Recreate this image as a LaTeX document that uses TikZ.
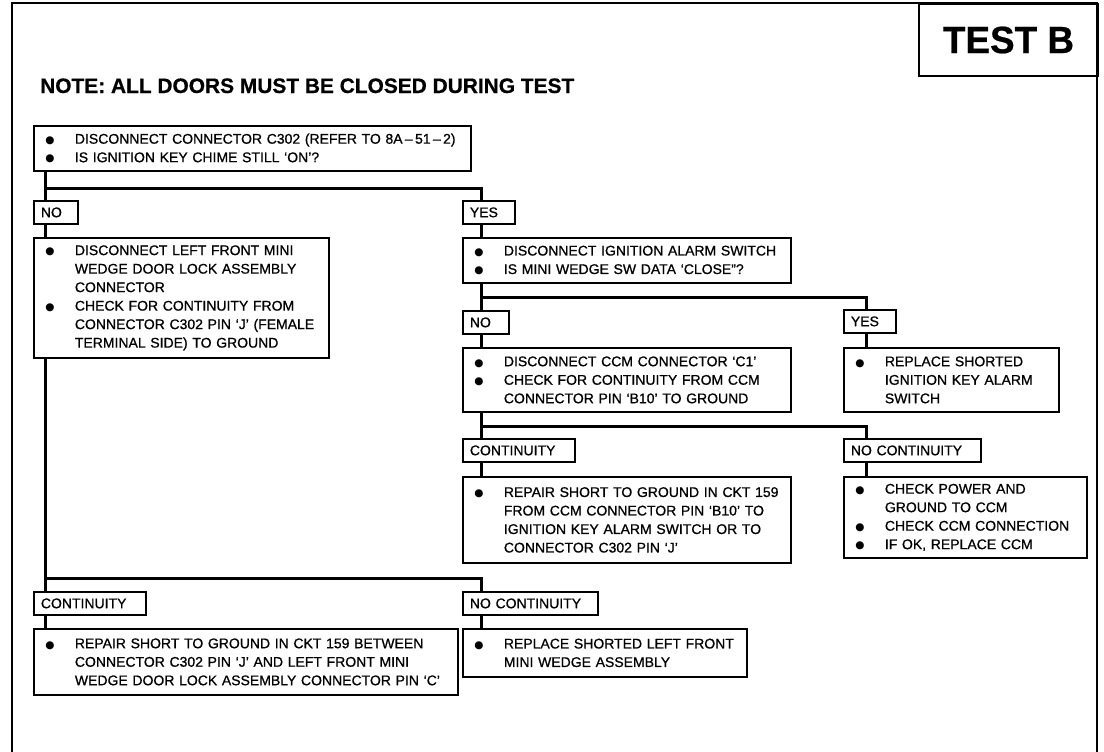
\documentclass[tikz,border=0pt]{standalone}
\usepackage{fontspec}
\usepackage{graphicx}
\setmainfont{Liberation Sans}[FakeBold=0.8]
\newfontfamily\headfont{Liberation Sans Bold}[FakeBold=0.6]
\newfontfamily\dotfont{DejaVu Sans}
\usetikzlibrary{calc}

\newcommand\bul{\makebox[30pt][l]{\hspace*{0.5pt}\raisebox{0.2pt}{\dotfont\fontsize{10.5}{10.5}\selectfont ●}}}
\newcommand\ind{\hspace*{30pt}}

\begin{document}
\begin{tikzpicture}[x=1pt, y=-1pt,
    stepbox/.style={draw, line width=1.8pt, anchor=north west, align=left,
        inner xsep=11pt, inner ysep=0pt, font=\fontsize{14}{18.5}\selectfont},
    tag/.style={draw, line width=1.8pt, anchor=north west, align=left,
        inner xsep=7pt, inner ysep=0pt, minimum height=23pt, font=\fontsize{14}{16}\selectfont},
    wire/.style={line width=3pt}]
    \useasboundingbox (0,0) rectangle (1104,752);
    % frame and heading
    \draw[line width=2pt] (12,752) -- (12,3) -- (1097,3) -- (1097,752);
    \node[draw, line width=2pt, anchor=north west, minimum width=179pt, minimum height=72pt,
        font=\headfont\fontsize{38}{38}\selectfont] at (918,3) (title) {\scalebox{0.97}[1]{TEST B}};
    \node[anchor=base west, inner sep=0pt, font=\headfont\fontsize{20.9}{20.9}\selectfont] at (40,93) (note)
        {NOTE: ALL DOORS MUST BE CLOSED DURING TEST};
    % columns of the connectors
    \coordinate (colA) at (45,0);
    \coordinate (colB) at (481,0);
    \coordinate (colC) at (866,0);
    % boxes
    \node[stepbox, text width=415pt, minimum height=45pt] at (33,125) (q1)
        {\bul DISCONNECT CONNECTOR C302 (REFER TO 8A\,–\,51\,–\,2)\\
         \bul IS IGNITION KEY CHIME STILL `ON'?};
    \node[tag, text width=30pt] at (33,200) (no1) {NO};
    \node[tag, text width=38pt] at (462,200) (yes1) {YES};
    \node[stepbox, text width=273pt, minimum height=120pt] at (33,237) (a1)
        {\bul DISCONNECT LEFT FRONT MINI\\
         \ind WEDGE DOOR LOCK ASSEMBLY\\
         \ind CONNECTOR\\
         \bul CHECK FOR CONTINUITY FROM\\
         \ind CONNECTOR C302 PIN `J' (FEMALE\\
         \ind TERMINAL SIDE) TO GROUND};
    \node[stepbox, text width=306pt, minimum height=45pt] at (462,237) (b1)
        {\bul DISCONNECT IGNITION ALARM SWITCH\\
         \bul IS MINI WEDGE SW DATA `CLOSE''?};
    \node[tag, text width=32pt] at (462,310) (no2) {NO};
    \node[tag, text width=38pt] at (843,309) (yes2) {YES};
    \node[stepbox, text width=306pt, minimum height=64pt] at (462,347) (c1)
        {\bul DISCONNECT CCM CONNECTOR `C1'\\
         \bul CHECK FOR CONTINUITY FROM CCM\\
         \ind CONNECTOR PIN `B10' TO GROUND};
    \node[stepbox, text width=193pt, minimum height=64pt] at (843,347) (d1)
        {\bul REPLACE SHORTED\\
         \ind IGNITION KEY ALARM\\
         \ind SWITCH};
    \node[tag, text width=98pt] at (462,438) (cont1) {CONTINUITY};
    \node[tag, text width=123pt] at (843,438) (ncont1) {NO CONTINUITY};
    \node[stepbox, text width=306pt, minimum height=86pt] at (462,476) (e1)
        {\bul REPAIR SHORT TO GROUND IN CKT 159\\
         \ind FROM CCM CONNECTOR PIN `B10' TO\\
         \ind IGNITION KEY ALARM SWITCH OR TO\\
         \ind CONNECTOR C302 PIN `J'};
    \node[stepbox, text width=221pt, minimum height=81pt] at (843,476) (f1)
        {\bul CHECK POWER AND\\
         \ind GROUND TO CCM\\
         \bul CHECK CCM CONNECTION\\
         \bul IF OK, REPLACE CCM};
    \node[tag, text width=98pt] at (33,591) (cont2) {CONTINUITY};
    \node[tag, text width=121pt] at (462,591) (ncont2) {NO CONTINUITY};
    \node[stepbox, text width=402pt, minimum height=66pt] at (33,628) (g1)
        {\bul REPAIR SHORT TO GROUND IN CKT 159 BETWEEN\\
         \ind CONNECTOR C302 PIN `J' AND LEFT FRONT MINI\\
         \ind WEDGE DOOR LOCK ASSEMBLY CONNECTOR PIN `C'};
    \node[stepbox, text width=262pt, minimum height=48pt] at (462,628) (h1)
        {\bul REPLACE SHORTED LEFT FRONT\\
         \ind MINI WEDGE ASSEMBLY};
    % connectors
    \draw[wire] (q1.south -| colA) -- (no1.north -| colA);
    \draw[wire] (q1.south -| colA) ++(0,17) -| (yes1.north -| colB);
    \draw[wire] (no1.south -| colA) -- (a1.north -| colA);
    \draw[wire] (yes1.south -| colB) -- (b1.north -| colB);
    \draw[wire] (b1.south -| colB) -- (no2.north -| colB);
    \draw[wire] (b1.south -| colB) ++(0,14) -| (yes2.north -| colC);
    \draw[wire] (no2.south -| colB) -- (c1.north -| colB);
    \draw[wire] (yes2.south -| colC) -- (d1.north -| colC);
    \draw[wire] (c1.south -| colB) -- (cont1.north -| colB);
    \draw[wire] (c1.south -| colB) ++(0,14) -| (ncont1.north -| colC);
    \draw[wire] (cont1.south -| colB) -- (e1.north -| colB);
    \draw[wire] (ncont1.south -| colC) -- (f1.north -| colC);
    \draw[wire] (a1.south -| colA) -- (cont2.north -| colA);
    \draw[wire] (cont2.north -| colA) ++(0,-13) -| (ncont2.north -| colB);
    \draw[wire] (cont2.south -| colA) -- (g1.north -| colA);
    \draw[wire] (ncont2.south -| colB) -- (h1.north -| colB);
\end{tikzpicture}
\end{document}
